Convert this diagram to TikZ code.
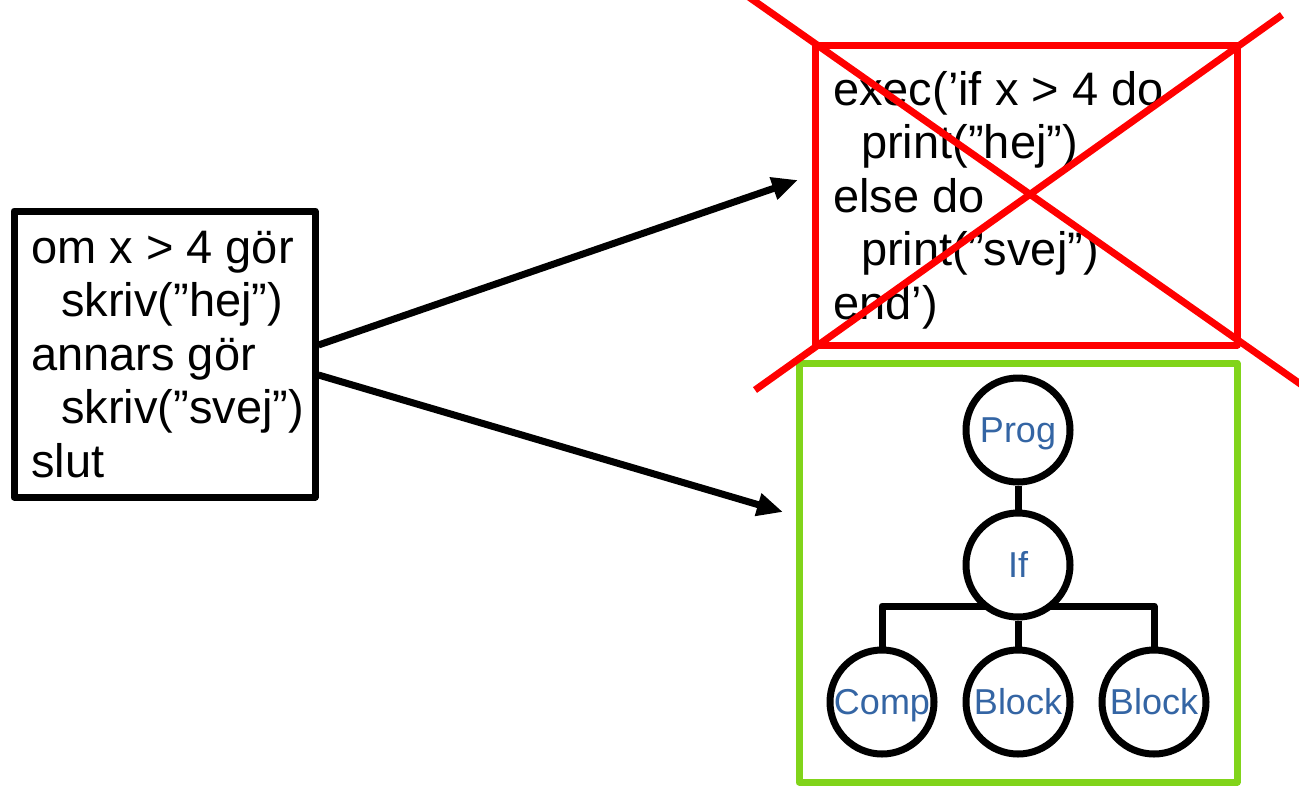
\documentclass[tikz,border=0pt]{standalone}
\usepackage{fontspec}
\setmainfont{Liberation Sans}
\usetikzlibrary{arrows.meta,backgrounds,calc}
\definecolor{xred}{HTML}{FF0000}
\definecolor{lime}{HTML}{81D41A}
\definecolor{nodeblue}{HTML}{3465A4}
\begin{document}
\begin{tikzpicture}[x=1pt,y=1pt,
  codebox/.style={draw=black,line width=7pt,line join=round,inner sep=0pt},
  codetext/.style={anchor=base west,inner sep=0pt,font=\fontsize{47}{53.5}\selectfont},
  tnode/.style={circle,draw=black,line width=7pt,fill=white,minimum size=104pt,inner sep=0pt,text=nodeblue,font=\fontsize{36}{36}\selectfont,text height=25pt,text depth=0pt},
  treeedge/.style={line width=7pt},
  arr/.style={line width=7pt,-{Triangle[length=26pt,width=22pt]}},
  cross/.style={draw=xred,line width=7pt}
]
\useasboundingbox (0,0) rectangle (1299,-785);
\clip (0,0) rectangle (1299,-785);

% source box
\node[codebox,minimum width=301pt,minimum height=286pt] (src) at (164.5,-354) {};
\node[codetext] (srctext) at (31,-263) {\vtop{\hbox{om x > 4 gör}\hbox{\kern30pt skriv(”hej”)}\hbox{annars gör}\hbox{\kern30pt skriv(”svej”)}\hbox{slut}}};

% exec box (rejected)
\node[codebox,draw=xred,minimum width=422pt,minimum height=300pt] (exec) at (1026,-195) {};
\node[codetext] (exectext) at (833,-105) {\vtop{\hbox{exec(’if x > 4 do}\hbox{\kern28pt print(”hej”)}\hbox{else do}\hbox{\kern28pt print(”svej”)}\hbox{end’)}}};

% AST box
\node[codebox,draw=lime,minimum width=438pt,minimum height=419pt] (ast) at (1018,-572.5) {};

% tree
\node[tnode] (prog) at (1018,-430) {Prog};
\node[tnode] (if) at (1018,-565) {If};
\node[tnode] (comp) at (882,-702) {Comp};
\node[tnode] (block1) at (1018,-702) {Block};
\node[tnode] (block2) at (1154,-702) {Block};
\coordinate (bar) at (1018,-606);
\begin{pgfonlayer}{background}
\draw[treeedge] (prog) -- (if);
\draw[treeedge] (if) -- (block1);
\draw[treeedge,line join=round] (comp.north) |- (bar) -| (block2.north);
\end{pgfonlayer}

% arrows
\coordinate (t1) at (798,-180);
\coordinate (t2) at (783,-512);
\draw[arr] ([yshift=9pt]src.east) -- (t1);
\draw[arr] ([yshift=-21pt]src.east) -- (t2);

% red cross
\draw[cross] (700,37.2) -- (1350,-418.8);
\draw[cross] (1282,-15) -- (755,-390);
\end{tikzpicture}
\end{document}
